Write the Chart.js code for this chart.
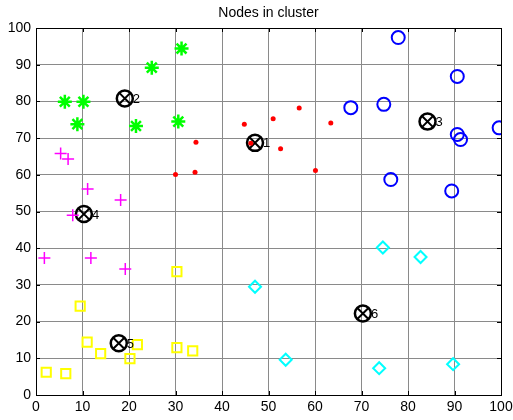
<!DOCTYPE html>
<html>
<head>
<meta charset="utf-8">
<script src="https://cdn.jsdelivr.net/npm/chart.js@4"></script>
<style>
  body { margin: 0; background: #fff; }
  #wrap { width: 513px; height: 420px; }
</style>
</head>
<body>
<div id="wrap"><canvas id="clusterChart" width="513" height="420"></canvas></div>
<script>
// cluster members
const cluster1 = [[30.0, 60.1], [34.2, 60.7], [34.4, 68.9], [44.8, 73.8], [46.2, 68.6],
  [51.0, 75.3], [52.6, 67.1], [56.6, 78.2], [60.1, 61.2], [63.4, 74.1]];
const cluster2 = [[6.2, 79.9], [10.2, 79.9], [8.9, 73.8], [21.5, 73.3], [24.9, 89.2],
  [31.3, 94.4], [30.6, 74.5]];
const cluster3 = [[77.9, 97.4], [90.6, 86.8], [67.7, 78.3], [74.8, 79.2], [90.6, 71.0],
  [91.3, 69.6], [99.6, 72.8], [76.3, 58.7], [89.4, 55.6]];
const cluster4 = [[5.3, 65.8], [6.9, 64.3], [11.1, 56.1], [18.2, 53.1], [7.9, 49.0],
  [1.8, 37.3], [11.8, 37.3], [19.2, 34.3]];
const cluster5 = [[30.3, 33.6], [9.5, 24.2], [11.0, 14.4], [13.9, 11.3], [21.8, 13.7],
  [20.2, 9.9], [30.3, 12.9], [33.7, 12.0], [2.2, 6.2], [6.4, 5.8]];
const cluster6 = [[47.1, 29.5], [74.6, 40.2], [82.7, 37.6], [53.7, 9.6], [73.8, 7.3],
  [89.7, 8.4]];
const centroids = [[47.1, 68.7], [19.1, 80.8], [84.2, 74.5], [10.3, 49.3], [17.8, 14.1], [70.3, 22.2]];
const centroidLabels = ["1", "2", "3", "4", "5", "6"];
const axisTicks = [0, 10, 20, 30, 40, 50, 60, 70, 80, 90, 100];
const chartTitle = "Nodes in cluster";

const toPts = (arr) => arr.map((p) => ({ x: p[0], y: p[1] }));
const FONT = "'Liberation Sans', Arial, sans-serif";

// frame, inward tick marks, title over the axes and centroid numbers
const matlabFrame = {
  id: "matlabFrame",
  afterDatasetsDraw(chart) {
    const ctx = chart.ctx;
    const a = chart.chartArea;
    const xs = chart.scales.x;
    const ys = chart.scales.y;
    ctx.save();
    ctx.strokeStyle = "#000";
    ctx.lineWidth = 1;
    ctx.beginPath();
    axisTicks.forEach((t) => {
      const px = Math.round(xs.getPixelForValue(t)) + 0.5;
      ctx.moveTo(px, a.bottom); ctx.lineTo(px, a.bottom - 4);
      ctx.moveTo(px, a.top); ctx.lineTo(px, a.top + 4);
      const py = Math.round(ys.getPixelForValue(t)) + 0.5;
      ctx.moveTo(a.left, py); ctx.lineTo(a.left + 4, py);
      ctx.moveTo(a.right, py); ctx.lineTo(a.right - 4, py);
    });
    ctx.stroke();
    ctx.strokeRect(Math.round(a.left) + 0.5, Math.round(a.top) + 0.5,
      Math.round(a.right - a.left), Math.round(a.bottom - a.top));

    ctx.fillStyle = "#000";
    ctx.textBaseline = "middle";
    ctx.textAlign = "center";
    ctx.font = "14px " + FONT;
    ctx.fillText(chartTitle, (a.left + a.right) / 2, 13);

    ctx.textAlign = "left";
    ctx.font = "13px " + FONT;
    centroids.forEach((c, i) => {
      ctx.fillText(centroidLabels[i], xs.getPixelForValue(c[0]) + 8, ys.getPixelForValue(c[1]) + 1);
    });
    ctx.restore();
  },
};

const ctx = document.getElementById("clusterChart").getContext("2d");
new Chart(ctx, {
  type: "scatter",
  data: {
    datasets: [
      { data: toPts(cluster1), pointStyle: "circle", pointRadius: 2.5, backgroundColor: "#ff0000", borderColor: "#ff0000", borderWidth: 0 },
      { data: toPts(cluster2), pointStyle: "star", pointRadius: 7, backgroundColor: "#00ff00", borderColor: "#00ff00", borderWidth: 2.5 },
      { data: toPts(cluster3), pointStyle: "circle", pointRadius: 6.5, backgroundColor: "rgba(0,0,0,0)", borderColor: "#0000ff", borderWidth: 2 },
      { data: toPts(cluster4), pointStyle: "cross", pointRadius: 6, backgroundColor: "#ff00ff", borderColor: "#ff00ff", borderWidth: 1.5 },
      { data: toPts(cluster5), pointStyle: "rect", pointRadius: 6.5, backgroundColor: "rgba(0,0,0,0)", borderColor: "#ffff00", borderWidth: 2 },
      { data: toPts(cluster6), pointStyle: "rectRot", pointRadius: 6, backgroundColor: "rgba(0,0,0,0)", borderColor: "#00ffff", borderWidth: 2 },
      { data: toPts(centroids), pointStyle: "circle", pointRadius: 8, backgroundColor: "rgba(0,0,0,0)", borderColor: "#000", borderWidth: 2.5 },
      { data: toPts(centroids), pointStyle: "crossRot", pointRadius: 7.5, backgroundColor: "#000", borderColor: "#000", borderWidth: 2 },
    ],
  },
  options: {
    responsive: false,
    animation: false,
    layout: { padding: { left: 0, right: 0, top: 28, bottom: 0 } },
    plugins: {
      legend: { display: false },
      tooltip: { enabled: false },
      title: { display: false },
    },
    scales: {
      x: {
        type: "linear",
        min: 0,
        max: 100,
        afterFit: (s) => { s.height = 25; s.paddingLeft = 0; s.paddingRight = 12; },
        afterBuildTicks: (s) => { s.ticks = axisTicks.map((v) => ({ value: v })); },
        ticks: { color: "#000", padding: 4, maxRotation: 0, font: { family: FONT, size: 14 } },
        grid: { color: "#8a8a8a", drawTicks: false },
        border: { display: false },
      },
      y: {
        type: "linear",
        min: 0,
        max: 100,
        afterFit: (s) => { s.width = 36; s.paddingTop = 0; s.paddingBottom = 0; },
        afterBuildTicks: (s) => { s.ticks = axisTicks.map((v) => ({ value: v })); },
        ticks: { color: "#000", padding: 5, font: { family: FONT, size: 14 } },
        grid: { color: "#8a8a8a", drawTicks: false },
        border: { display: false },
      },
    },
  },
  plugins: [matlabFrame],
});
</script>
</body>
</html>
